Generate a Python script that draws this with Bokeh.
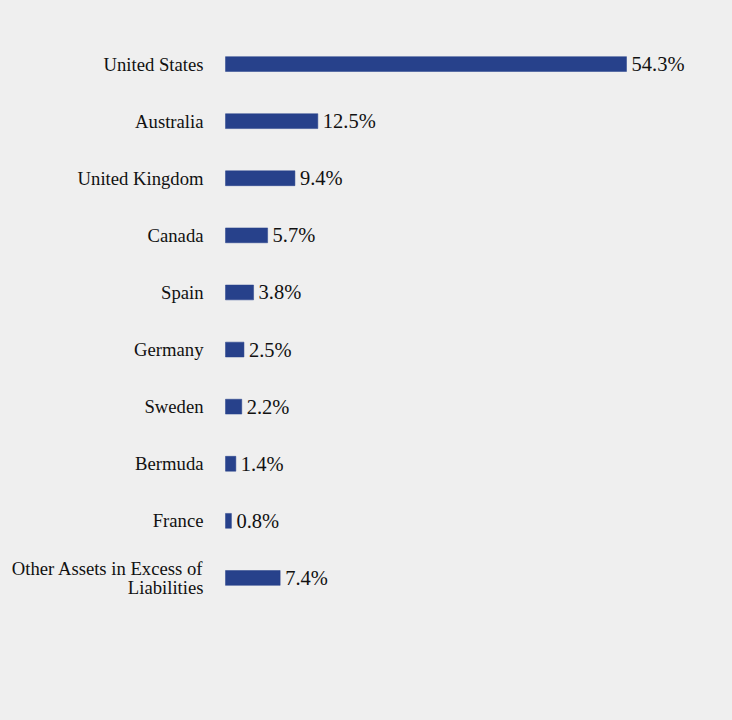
from bokeh.plotting import figure
from bokeh.models import Range1d, FactorRange, ColumnDataSource
from bokeh.core.properties import value
from bokeh.embed import file_html
from bokeh.resources import INLINE

countries = ["United States", "Australia", "United Kingdom", "Canada", "Spain",
             "Germany", "Sweden", "Bermuda", "France",
             "Other Assets in Excess of\nLiabilities"]
values = [54.3, 12.5, 9.4, 5.7, 3.8, 2.5, 2.2, 1.4, 0.8, 7.4]
value_labels = ["54.3%", "12.5%", "9.4%", "5.7%", "3.8%", "2.5%", "2.2%", "1.4%", "0.8%", "7.4%"]

BG = "#efefef"
BAR = "#27418b"

W, H = 716, 704
left_px = 217
ppu = 7.385
x_start = -left_px / ppu
x_end = (W - left_px) / ppu

src = ColumnDataSource(dict(cat=countries, val=values, lab=value_labels,
                            zero=[0] * len(values)))

p = figure(width=W, height=H, output_backend="svg", toolbar_location=None,
           x_range=Range1d(x_start, x_end),
           y_range=FactorRange(factors=list(reversed(countries)), range_padding=0),
           min_border_left=0, min_border_right=0, min_border_top=27, min_border_bottom=106)
p.background_fill_color = BG
p.border_fill_color = BG
p.outline_line_color = None
p.xaxis.visible = False
p.yaxis.visible = False
p.xgrid.visible = False
p.ygrid.visible = False

p.hbar(y="cat", left=0, right="val", height=0.26, source=src,
       fill_color=BAR, line_color=BAR, line_width=0.5)

p.text(x="zero", y="cat", text="cat", source=src, x_offset=-22,
       text_align="right", text_baseline="middle",
       text_font=value("Liberation Serif"), text_font_size="18.67px",
       text_color="#111111", text_line_height=0.92)

p.text(x="val", y="cat", text="lab", source=src, x_offset=5,
       text_align="left", text_baseline="middle",
       text_font=value("Liberation Serif"), text_font_size="20.5px",
       text_color="#111111")

html = file_html(p, INLINE)
i = html.rfind("<body")
if i >= 0:
    j = html.find(">", i)
    html = html[:j] + ' style="margin:8px;background:%s;"' % BG + html[j:]
open("out.html", "w").write(html)
